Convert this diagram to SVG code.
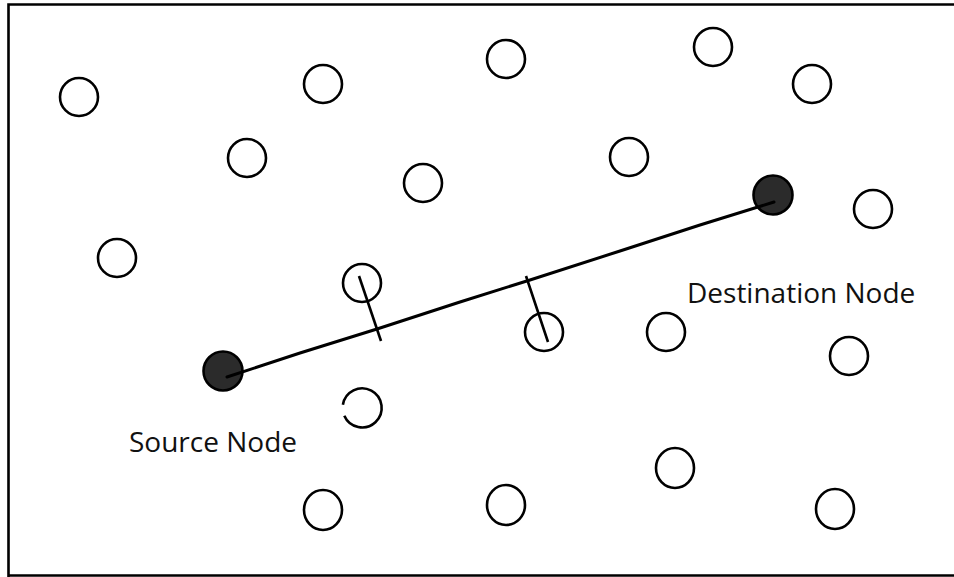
<svg xmlns="http://www.w3.org/2000/svg" width="954" height="577" viewBox="0 0 954 577">
<style>
.n{fill:#fff;stroke:#000;stroke-width:2.6}
.f{fill:#2b2b2b;stroke:#000;stroke-width:2.6}
.c{fill:none;stroke:#000;stroke-width:3;stroke-linecap:round;stroke-linejoin:round}
.t{fill:none;stroke:#000;stroke-width:2.6;stroke-linecap:butt}
.lbl{font-family:"Open Sans","Liberation Sans",sans-serif;font-size:28px;fill:#111}
</style>
<rect x="0" y="0" width="954" height="577" fill="#fff"/>
<path d="M8.5,577 V4.5 H960 M8.5,575.5 H960" fill="none" stroke="#000" stroke-width="2.6"/>
<g id="nodes">
<g id="n1"><circle class="n" cx="79" cy="97" r="19"/></g>
<g id="n2"><circle class="n" cx="323" cy="84" r="19"/></g>
<g id="n3"><circle class="n" cx="506" cy="59" r="19"/></g>
<g id="n4"><circle class="n" cx="713" cy="47" r="19"/></g>
<g id="n5"><circle class="n" cx="812" cy="84" r="19"/></g>
<g id="n6"><circle class="n" cx="247" cy="158" r="19"/></g>
<g id="n7"><circle class="n" cx="423" cy="183" r="19"/></g>
<g id="n8"><circle class="n" cx="629" cy="157" r="19"/></g>
<g id="n9"><circle class="n" cx="873" cy="209" r="19"/></g>
<g id="n10"><circle class="n" cx="117" cy="258" r="19"/></g>
<g id="n11"><circle class="n" cx="362" cy="283" r="19"/></g>
<g id="n12"><circle class="n" cx="544" cy="332" r="19"/></g>
<g id="n13"><circle class="n" cx="666" cy="332" r="19"/></g>
<g id="n14"><circle class="n" cx="849" cy="356" r="19"/></g>
<g id="n15"><path class="n" d="M342.9,404.8 A19.5,19.5 0 1 1 344.3,415.7" style="fill:none"/></g>
<g id="n16"><ellipse class="n" cx="675" cy="468" rx="19" ry="20"/></g>
<g id="n17"><ellipse class="n" cx="323" cy="510" rx="19" ry="20"/></g>
<g id="n18"><ellipse class="n" cx="506" cy="505" rx="19" ry="20"/></g>
<g id="n19"><ellipse class="n" cx="835" cy="509" rx="19" ry="20"/></g>
<g id="source"><circle class="f" cx="223" cy="371" r="19.5"/><text class="lbl" x="129" y="452">Source Node</text></g>
<g id="destination"><circle class="f" cx="773" cy="195" r="19.5"/><text class="lbl" x="687" y="303">Destination Node</text></g>
</g>
<g id="connectors">
<path class="c" d="M227,377 L300,353 L377,329 L460,302 L530,280 L620,251 L700,225 L774,202"/>
<line class="t" x1="359" y1="276" x2="381" y2="341"/>
<line class="t" x1="526" y1="276" x2="548" y2="342"/>
</g>
</svg>
